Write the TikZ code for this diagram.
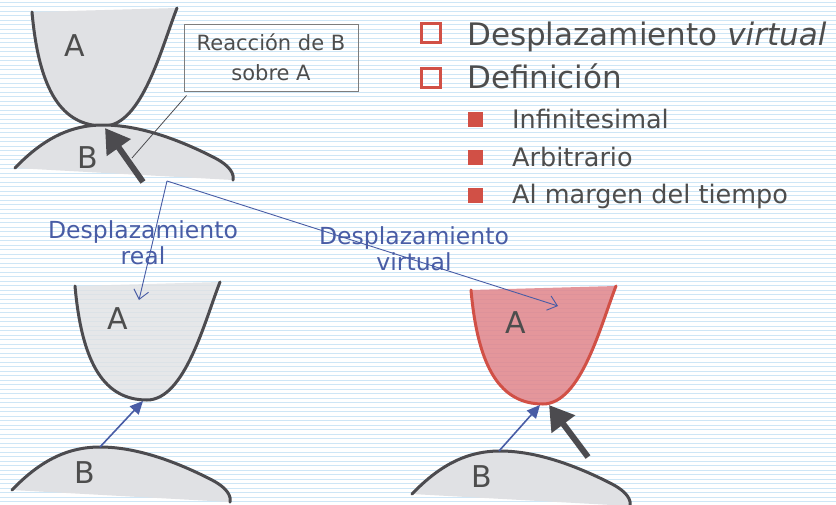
\documentclass[tikz,border=0pt]{standalone}
\usepackage{fontspec}
\setmainfont{DejaVu Sans}
\usetikzlibrary{arrows.meta}

\definecolor{textgray}{RGB}{77,77,77}
\definecolor{linegray}{RGB}{76,75,79}
\definecolor{bodygray}{RGB}{224,225,228}
\definecolor{boxgray}{RGB}{125,125,125}
\definecolor{bulletred}{RGB}{209,80,70}
\definecolor{virtualred}{RGB}{224,132,138}
\definecolor{annoblue}{RGB}{72,92,165}
\definecolor{rulecol}{RGB}{206,230,246}

\tikzset{
  rule/.style={draw=rulecol, line width=0.8pt},
  bodyA/.pic={
    \path[pic actions, draw=none] (-72,-114) .. controls (-65,-35) and (-42,0) .. (0,0)
      .. controls (38,0) and (58,-80) .. (73,-118) -- cycle;
    \draw[pic actions, fill=none] (-72,-114) .. controls (-65,-35) and (-42,0) .. (0,0)
      .. controls (38,0) and (58,-80) .. (73,-118);
  },
  bodyB/.pic={
    \path[pic actions, draw=none] (-88,43) .. controls (-62,16) and (-35,0) .. (0,0)
      .. controls (37,0) and (77,15) .. (112,33) .. controls (129,42) and (131,50) .. (130,55) -- cycle;
    \draw[pic actions, fill=none] (-88,43) .. controls (-62,16) and (-35,0) .. (0,0)
      .. controls (37,0) and (77,15) .. (112,33) .. controls (129,42) and (131,50) .. (130,55);
  },
  grey body/.style={fill=bodygray, draw=linegray, line width=3pt, line cap=round},
  red body/.style={fill=virtualred, fill opacity=0.85, draw=bulletred, line width=3pt, line cap=round},
  letter/.style={anchor=base, inner sep=0pt, text=textgray, font=\fontsize{30}{36}\selectfont},
  heading/.style={anchor=base west, inner sep=0pt, text=textgray, font=\fontsize{31}{37}\selectfont},
  item/.style={anchor=base west, inner sep=0pt, text=textgray, font=\fontsize{25.5}{30}\selectfont},
  hollow bullet/.style={draw=bulletred, line width=3pt, minimum size=19pt, inner sep=0pt},
  full bullet/.style={fill=bulletred, minimum size=15pt, inner sep=0pt},
  callout/.style={draw=boxgray, line width=1pt, minimum width=174pt, minimum height=67pt,
    align=center, inner sep=0pt, text=textgray, font=\fontsize{21}{30}\selectfont},
  pointer/.style={draw=linegray, line width=0.8pt},
  reaction/.style={draw=linegray, line width=6pt, -{Triangle[length=24pt,width=28pt]}},
  motion/.style={draw=annoblue, line width=1.6pt, -{Triangle[length=13pt,width=12pt]}},
  shift arrow/.style={draw=annoblue, line width=0.9pt, -{Straight Barb[length=9pt,width=15pt]}},
  anno/.style={anchor=base, inner sep=0pt, text=annoblue, align=center,
    font=\fontsize{23.5}{26}\selectfont},
}

\begin{document}
\begin{tikzpicture}[x=1pt,y=-1pt]
\useasboundingbox (0,0) rectangle (836,504);
% ruled page
\fill[white] (0,0) rectangle (836,504);
\foreach \y in {2,6.5,...,504}
  \draw[rule] (0,\y) -- (836,\y);

% bullet list
\node[hollow bullet] (box1) at (431,32.5) {};
\node[heading] (title) at (467,45) {Desplazamiento \textit{virtual}};
\node[hollow bullet] (box2) at (431,77.5) {};
\node[heading] (defin) at (467,88) {Definición};
\node[full bullet] (dot1) at (475.5,119.5) {};
\node[item] (inf) at (512,128) {Infinitesimal};
\node[full bullet] (dot2) at (475.5,157.5) {};
\node[item] (arb) at (512,166) {Arbitrario};
\node[full bullet] (dot3) at (475.5,195.5) {};
\node[item] (tiempo) at (512,203) {Al margen del tiempo};

% contact of A on B
\pic[grey body] at (104,126) {bodyA};
\pic[grey body] at (103,125) {bodyB};
\node[letter] (A0) at (75,56) {A};
\node[letter] (B0) at (88,168) {B};
\coordinate (tip0) at (105,128);
\coordinate (tail0) at (143,182);
\draw[reaction] (tail0) -- (tip0);
\node[callout] (reac) at (271,57.5) {Reacción de B\\sobre A};
\coordinate (touch) at (132,158);
\draw[pointer] ([xshift=3pt,yshift=-4pt]reac.south west) -- (touch);

% real
\pic[grey body, fill opacity=0.8] at (147,400) {bodyA};
\pic[grey body] at (100,447) {bodyB};
\node[letter] (A1) at (118,329) {A};
\node[letter] (B1) at (85,483) {B};
\coordinate (hump1) at (100,447);
\coordinate (low1) at (143,401);
\draw[motion] (hump1) -- (low1);

% virtual
\pic[red body] at (543,404) {bodyA};
\pic[grey body] at (500,451) {bodyB};
\node[letter] (A2) at (516,333) {A};
\node[letter] (B2) at (482,487) {B};
\coordinate (hump2) at (499,451);
\coordinate (low2) at (540,405);
\draw[motion] (hump2) -- (low2);
\coordinate (tip2) at (549,405);
\coordinate (tail2) at (588,457);
\draw[reaction] (tail2) -- (tip2);

% displacements
\node[anno] (real) at (143,264) {Desplazamiento\\real};
\node[anno] (virt) at (414,270) {Desplazamiento\\virtual};
\coordinate (from) at (167,181);
\coordinate (realTo) at (139,300);
\coordinate (virtTo) at (558,306);
\draw[shift arrow] (from) -- (realTo);
\draw[shift arrow] (from) -- (virtTo);
\end{tikzpicture}
\end{document}
